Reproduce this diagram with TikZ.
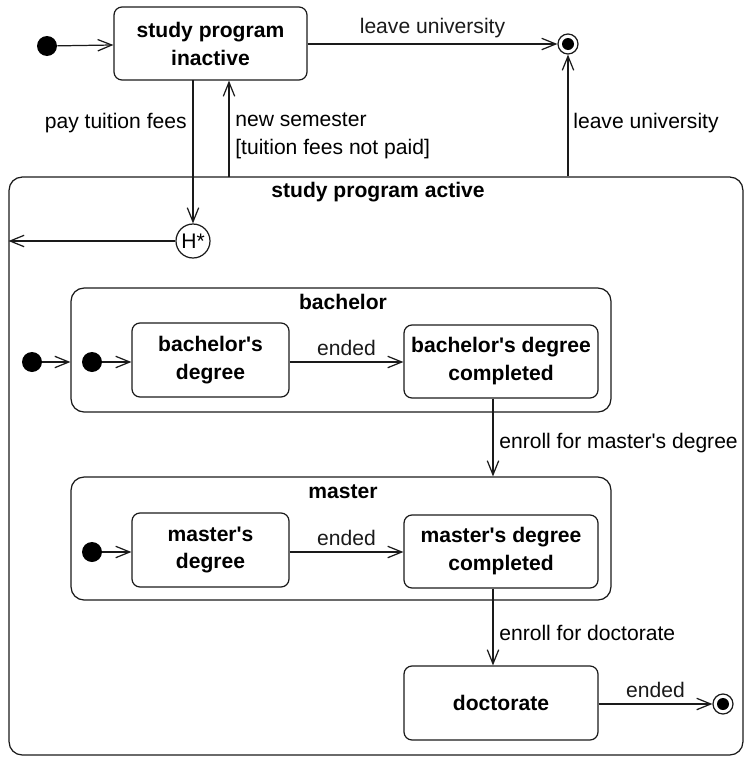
\documentclass[tikz,border=0pt]{standalone}
\usepackage{fontspec}
\setmainfont{Liberation Sans}
\usepackage{tikz}
\usetikzlibrary{arrows.meta, positioning}
\definecolor{lncol}{HTML}{1A1A1A}
\newcommand{\apos}{\textquotesingle}
\tikzset{
  stnode/.style={draw=lncol,line width=0.7pt,rounded corners=0.16cm,align=center,font=\fontsize{12}{15.9}\selectfont\bfseries,inner sep=1pt},
  cmpbox/.style={draw=lncol,line width=0.7pt,rounded corners=0.26cm,inner sep=0pt},
  cmplbl/.style={font=\fontsize{12}{15.9}\selectfont\bfseries,inner sep=0pt},
  initnode/.style={circle,fill=black,minimum size=0.4cm,inner sep=0pt},
  finnode/.style={circle,draw=lncol,line width=0.7pt,minimum size=0.4cm,inner sep=0pt,
    path picture={\fill[black] (path picture bounding box.center) circle (0.12cm);}},
  histnode/.style={circle,draw=lncol,line width=0.7pt,minimum size=0.68cm,inner sep=0pt},
  trans/.style={-{Straight Barb[length=8pt,width=6.5pt]},line width=0.7pt,lncol},
  lbl/.style={inner sep=0pt},
}

\begin{document}
\begin{tikzpicture}[x=0.02cm,y=-0.02cm,font=\fontsize{12}{15.9}\selectfont]
  \useasboundingbox (0,0) rectangle (745,758);
  % top level
  \node[initnode] (i0) at (47,46) {};
  \node[stnode,minimum width=3.86cm,minimum height=1.46cm] (inactive) at (210.5,43.5) {study program\\inactive};
  \node[finnode] (f0) at (568,44) {};
  \node[cmpbox,minimum width=14.68cm,minimum height=11.56cm] (active) at (376,466) {};
  \node[cmplbl] (activelbl) at (378,192) {study program active};
  \node[histnode] (hist) at (193,241) {H*};
  % bachelor
  \node[cmpbox,minimum width=10.8cm,minimum height=2.48cm] (bach) at (341,350) {};
  \node[cmplbl] (bachlbl) at (343,302) {bachelor};
  \node[initnode] (i1) at (32,362) {};
  \node[initnode] (i2) at (92,362) {};
  \node[stnode,minimum width=3.14cm,minimum height=1.48cm] (bdeg) at (210.5,360) {bachelor\apos s\\degree};
  \node[stnode,minimum width=3.88cm,minimum height=1.46cm] (bdone) at (501,361.5) {bachelor\apos s degree\\completed};
  % master
  \node[cmpbox,minimum width=10.8cm,minimum height=2.46cm] (mast) at (341,538.5) {};
  \node[cmplbl] (mastlbl) at (343,492) {master};
  \node[initnode] (i3) at (92,552) {};
  \node[stnode,minimum width=3.14cm,minimum height=1.48cm] (mdeg) at (210.5,550) {master\apos s\\degree};
  \node[stnode,minimum width=3.88cm,minimum height=1.46cm] (mdone) at (501,551.5) {master\apos s degree\\completed};
  % doctorate
  \node[stnode,minimum width=3.88cm,minimum height=1.48cm] (doc) at (501,703) {doctorate};
  \node[finnode] (f1) at (723,704) {};
  % transitions
  \coordinate (paytop) at (193,80);
  \coordinate (nsbot) at (229,177);
  \draw[trans] (i0) -- (inactive);
  \draw[trans] (inactive.east |- f0) -- node[lbl,above=3pt] {leave university} (f0);
  \draw[trans] (paytop) -- (hist);
  \draw[trans] (nsbot) -- (nsbot |- inactive.south);
  \draw[trans] (active.north -| f0) -- (f0);
  \draw[trans] (hist) -- (active.west |- hist);
  \node[lbl,anchor=east] (paylbl) at (187,123) {pay tuition fees};
  \node[lbl,anchor=west,align=left] (nslbl) at (235,136) {new semester\\{}[tuition fees not paid]};
  \node[lbl,anchor=west] (leavelbl) at (573,123) {leave university};
  \draw[trans] (i1) -- (bach.west |- i1);
  \draw[trans] (i2) -- (bdeg.west |- i2);
  \draw[trans] (bdeg.east |- i2) -- node[lbl,above=3pt] {ended} (bdone.west |- i2);
  \draw[trans] (bdone.south -| 493,0) -- (mast.north -| 493,0);
  \node[lbl,anchor=west] (enmlbl) at (499,443) {enroll for master\apos s degree};
  \draw[trans] (i3) -- (mdeg.west |- i3);
  \draw[trans] (mdeg.east |- i3) -- node[lbl,above=3pt] {ended} (mdone.west |- i3);
  \draw[trans] (mdone.south -| 493,0) -- (doc.north -| 493,0);
  \node[lbl,anchor=west] (endlbl) at (499,633) {enroll for doctorate};
  \draw[trans] (doc.east |- f1) -- node[lbl,above=3pt] {ended} (f1);
\end{tikzpicture}
\end{document}
